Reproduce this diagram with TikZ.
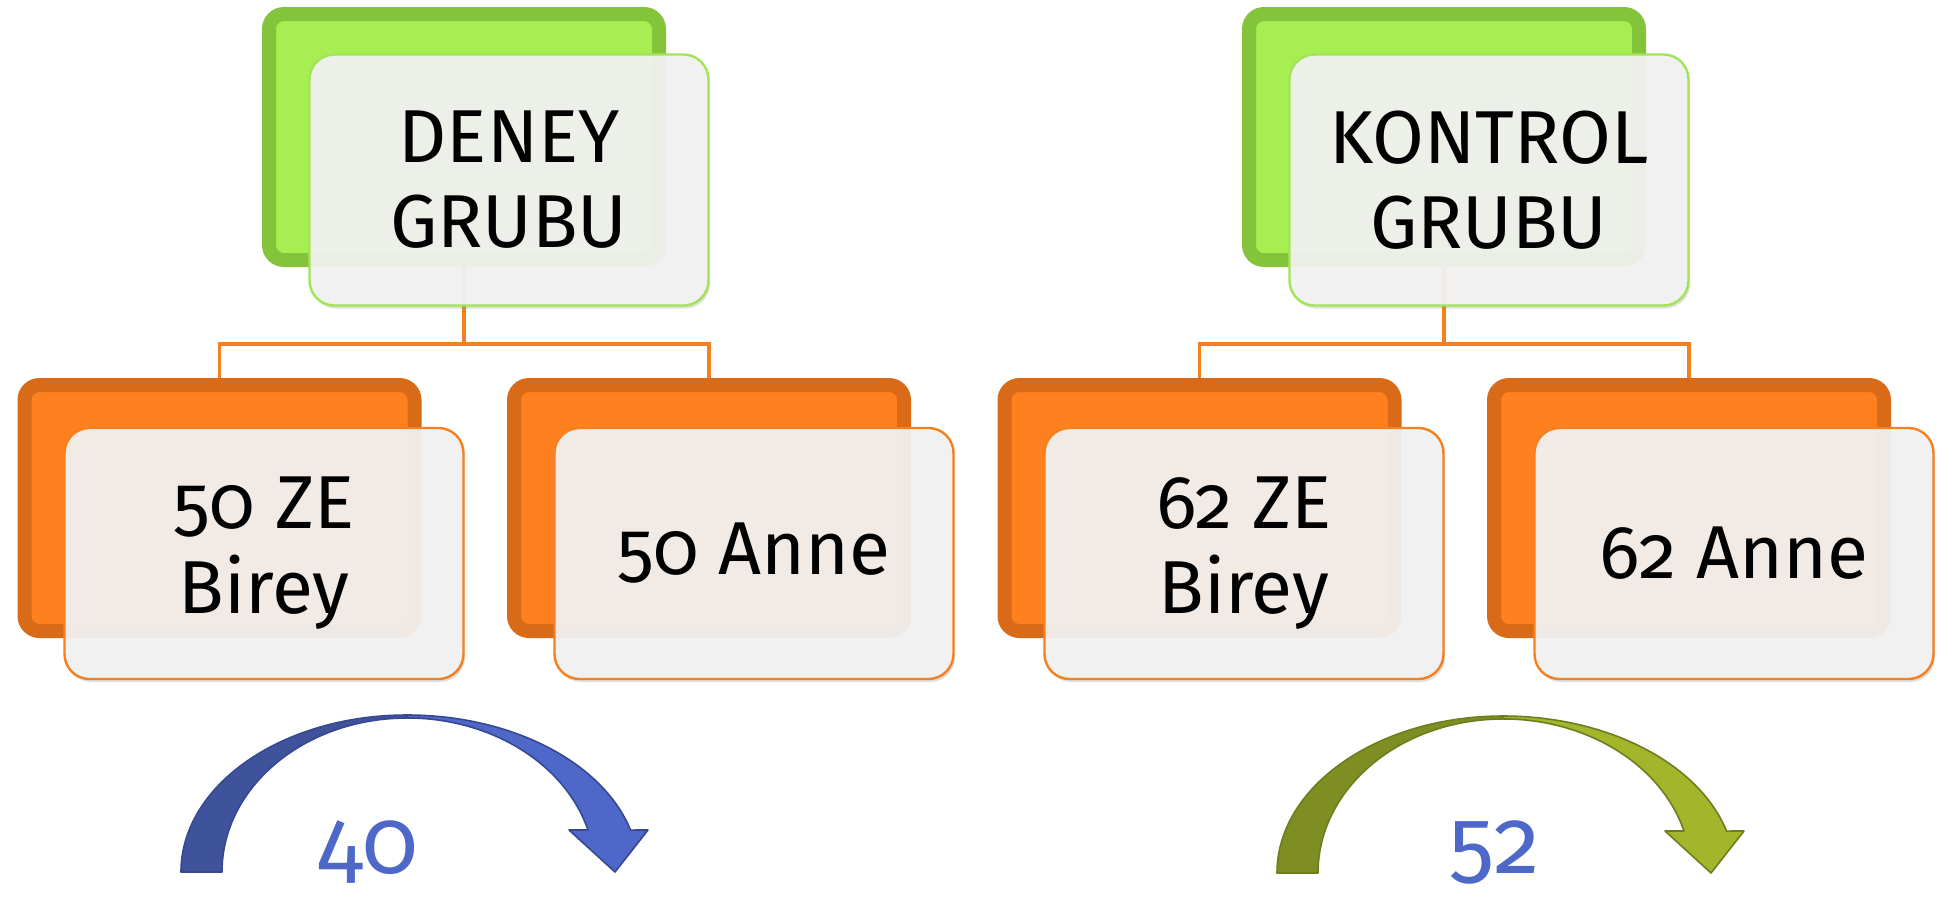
\documentclass[tikz,border=0pt]{standalone}
\usepackage{fontspec}
\setmainfont{Fira Sans}[Numbers=OldStyle]
\usetikzlibrary{shadows,backgrounds}
\definecolor{grim}{HTML}{84C43A}
\definecolor{gin}{HTML}{A6EE52}
\definecolor{gline}{HTML}{A2E458}
\definecolor{orim}{HTML}{D96A17}
\definecolor{oin}{HTML}{FF801F}
\definecolor{oline}{HTML}{F5801F}
\definecolor{frontfill}{HTML}{F3F3F3}
\definecolor{numblue}{HTML}{4E68C8}
\definecolor{bdark}{HTML}{3F529C}
\definecolor{blight}{HTML}{4E67C8}
\definecolor{bedge}{HTML}{36498F}
\definecolor{gdark}{HTML}{7F8E22}
\definecolor{glight}{HTML}{A3B52A}
\definecolor{gedge}{HTML}{6E7D1D}
\tikzset{
  backbox/.style={rectangle, rounded corners=7.5pt, inner sep=0pt,
    minimum width=195pt, minimum height=123pt, line width=7pt,
    drop shadow={opacity=0.3, shadow xshift=1pt, shadow yshift=-1.5pt}},
  greenback/.style={backbox, draw=grim, fill=gin},
  orangeback/.style={backbox, draw=orim, fill=oin},
  frontbox/.style={rectangle, rounded corners=12.5pt, inner sep=0pt,
    minimum width=199.5pt, minimum height=125.5pt, line width=1.2pt,
    fill=frontfill, fill opacity=0.93, text opacity=1, text=black,
    align=center, font=\fontsize{37.5}{42.5}\selectfont,
    drop shadow={opacity=0.25, shadow xshift=0.8pt, shadow yshift=-1.5pt}},
  greenfront/.style={frontbox, draw=gline},
  orangefront/.style={frontbox, draw=oline},
  conn/.style={draw=oline, line width=1.9pt},
  numlabel/.style={text=numblue, inner sep=0pt, anchor=base,
    font=\fontsize{46}{46}\selectfont}
}
\begin{document}
\begin{tikzpicture}[x=0.5pt, y=-0.5pt]
\useasboundingbox (0,0) rectangle (1939,896);

% ---------- left group ----------
\node[greenback] (GB1) at (464,137) {};
\node[greenfront] (GF1) at (509,180) {DENEY\\GRUBU};
\node[orangeback] (OB1) at (219.5,508) {};
\node[orangefront] (OF1) at (264,553.5) {50 ZE\\Birey};
\node[orangeback] (OB2) at (709,508) {};
\node[orangefront] (OF2) at (754,553.5) {50 Anne};

% ---------- right group ----------
\node[greenback] (GB2) at (1444,137) {};
\node[greenfront] (GF2) at (1489,180) {KONTROL\\GRUBU};
\node[orangeback] (OB3) at (1199.5,508) {};
\node[orangefront] (OF3) at (1244,553.5) {62 ZE\\Birey};
\node[orangeback] (OB4) at (1689,508) {};
\node[orangefront] (OF4) at (1734,553.5) {62 Anne};

\coordinate (J1) at (464,344);
\coordinate (J2) at (1444,344);
\begin{scope}[on background layer]
  \fill[white] (0,0) rectangle (1939,896);
  \draw[conn] (GB1.south) -- (J1);
  \draw[conn] (J1) -| (OB1.north);
  \draw[conn] (J1) -| (OB2.north);
  \draw[conn] (GB2.south) -- (J2);
  \draw[conn] (J2) -| (OB3.north);
  \draw[conn] (J2) -| (OB4.north);
\end{scope}

% ---------- curved arrows ----------
\begin{scope}[line width=0.8pt, line join=round]
  \filldraw[fill=bdark, draw=bedge] (181,872) arc[start angle=180, end angle=270, x radius=226, y radius=157]
     -- (407,718) arc[start angle=270, end angle=180, x radius=185, y radius=154] -- cycle;
  \filldraw[fill=blight, draw=bedge] (407,715) arc[start angle=270, end angle=344.5, x radius=232, y radius=157]
     -- (648,830) -- (615,872) -- (569,830) -- (588,830)
     arc[start angle=344.2, end angle=270, x radius=188, y radius=154] -- cycle;
\end{scope}
\begin{scope}[shift={(1096,1)}, line width=0.8pt, line join=round]
  \filldraw[fill=gdark, draw=gedge] (181,872) arc[start angle=180, end angle=270, x radius=226, y radius=157]
     -- (407,718) arc[start angle=270, end angle=180, x radius=185, y radius=154] -- cycle;
  \filldraw[fill=glight, draw=gedge] (407,715) arc[start angle=270, end angle=344.5, x radius=232, y radius=157]
     -- (648,830) -- (615,872) -- (569,830) -- (588,830)
     arc[start angle=344.2, end angle=270, x radius=188, y radius=154] -- cycle;
\end{scope}

\node[numlabel] (N1) at (368,873) {40};
\node[numlabel] (N2) at (1495,873) {52};
\end{tikzpicture}
\end{document}
